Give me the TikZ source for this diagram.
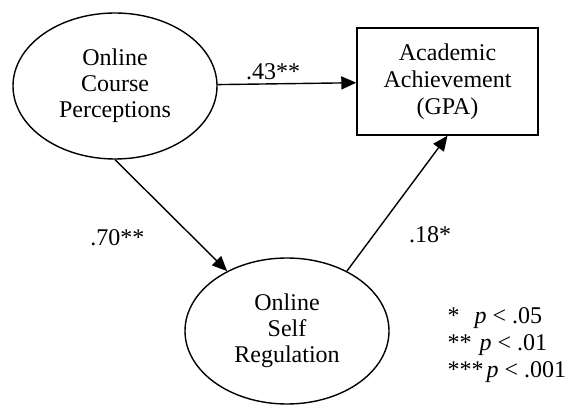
\documentclass[tikz,border=0pt]{standalone}
\usepackage{fontspec}
\setmainfont{Liberation Serif}
\usetikzlibrary{shapes.geometric, positioning, arrows.meta}
\tikzset{latent/.style={draw,ellipse,line width=1.4pt,minimum width=204pt,minimum height=146pt,inner sep=0pt,align=center,font=\fontsize{24}{26}\selectfont},
         observed/.style={draw,rectangle,line width=1.4pt,minimum width=181pt,minimum height=107pt,inner sep=0pt,align=center,font=\fontsize{24}{27}\selectfont},
         effect/.style={-{Triangle[length=15pt,width=13pt]},line width=1.4pt},
         coef/.style={font=\fontsize{24}{27}\selectfont},
        }
\begin{document}
\begin{tikzpicture}[x=1pt,y=1pt]
        \useasboundingbox (0,0) rectangle (567,404);
        \node[latent](oc)at(115,318){Online\\Course\\Perceptions};
        \node[observed](gpa)at(447.5,322.5){Academic\\Achievement\\(GPA)};
        \node[latent](sr)at(287,73){Online\\Self\\Regulation};

        \draw[effect](oc)--node[coef,above,pos=0.4]{.43**}(gpa);
        \draw[effect](oc.south)--node[coef,pos=0.7,left=45pt]{.70**}(sr.135);
        \draw[effect](sr.45)--node[coef,pos=0.3,right=28pt,yshift=-4pt]{.18*}(gpa.south);

        \node[coef,align=left,anchor=west](sig)at(444,59){*\hspace{15pt}\textit{p} < .05\\**\hspace{8pt}\textit{p} < .01\\***\hspace{3pt}\textit{p} < .001};
    \end{tikzpicture}
\end{document}
